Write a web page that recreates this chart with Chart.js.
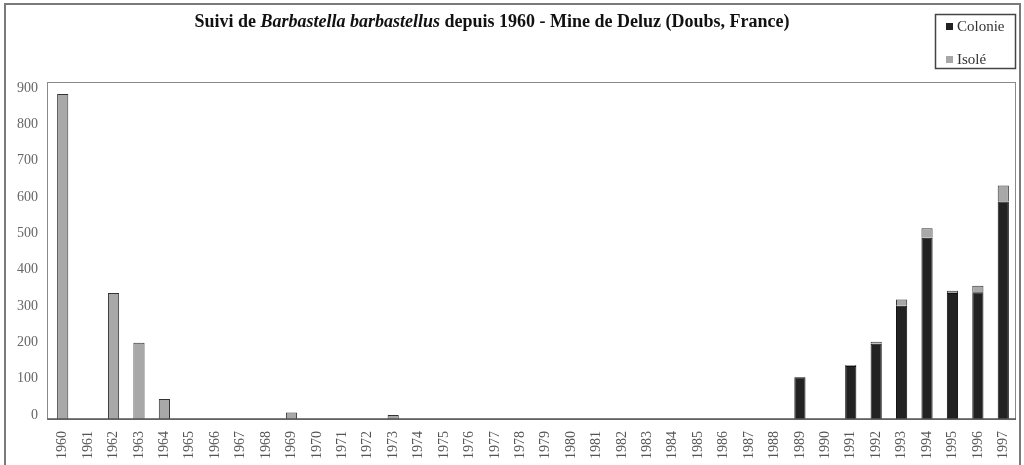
<!DOCTYPE html>
<html>
<head>
<meta charset="utf-8">
<script src="https://cdn.jsdelivr.net/npm/chart.js@4"></script>
<style>
  html, body { margin: 0; padding: 0; background: #fff; }
  #wrap { width: 1024px; height: 465px; position: relative; }
</style>
</head>
<body>
<div id="wrap"><canvas id="c" width="1024" height="465"></canvas></div>
<script>
// ---- Data ----
const years = ['1960','1961','1962','1963','1964','1965','1966','1967','1968','1969',
  '1970','1971','1972','1973','1974','1975','1976','1977','1978','1979',
  '1980','1981','1982','1983','1984','1985','1986','1987','1988','1989',
  '1990','1991','1992','1993','1994','1995','1996','1997'];
const colonie = [0,0,0,0,0,0,0,0,0,0,
  0,0,0,0,0,0,0,0,0,0,
  0,0,0,0,0,0,0,0,0,115,
  0,146,207,312,499,347,349,599];
const isole = [895,0,347,210,55,0,0,0,0,18,
  0,0,0,11,0,0,0,0,0,0,
  0,0,0,0,0,0,0,0,0,0,
  0,3,6,17,26,6,18,44];
const seriesNames = ['Colonie', 'Isolé'];
const yTicks = [0,100,200,300,400,500,600,700,800,900];
const titleParts = [
  { text: 'Suivi de ', italic: false },
  { text: 'Barbastella barbastellus', italic: true },
  { text: ' depuis 1960 - Mine de Deluz (Doubs, France)', italic: false }
];

const SERIF = '"Liberation Serif", "DejaVu Serif", serif';

const framePlugin = {
  id: 'frame',
  beforeDraw(chart) {
    const ctx = chart.ctx;
    ctx.save();
    ctx.fillStyle = '#fff';
    ctx.fillRect(0, 0, chart.width, chart.height);
    ctx.strokeStyle = '#7a7a7a';
    ctx.lineWidth = 2;
    ctx.strokeRect(5, 4, 1015, 470);
    ctx.restore();
  },
  afterDatasetsDraw(chart) {
    const ctx = chart.ctx, a = chart.chartArea;
    ctx.save();
    ctx.strokeStyle = '#8a8a8a';
    ctx.lineWidth = 1;
    ctx.strokeRect(a.left - 2.5, a.top + 0.5, a.right - a.left + 2, a.bottom - a.top);
    ctx.strokeStyle = '#555';
    ctx.lineWidth = 1.5;
    ctx.beginPath();
    ctx.moveTo(a.left - 2.5, a.bottom);
    ctx.lineTo(a.right, a.bottom);
    ctx.stroke();
    ctx.restore();
  }
};

const titlePlugin = {
  id: 'mixedTitle',
  afterDraw(chart) {
    const ctx = chart.ctx;
    ctx.save();
    ctx.fillStyle = '#111';
    ctx.textBaseline = 'middle';
    const size = 18;
    const fontFor = p => (p.italic ? 'italic ' : '') + 'bold ' + size + 'px ' + SERIF;
    let total = 0;
    titleParts.forEach(p => { ctx.font = fontFor(p); total += ctx.measureText(p.text).width; });
    let x = 492 - total / 2;
    titleParts.forEach(p => {
      ctx.font = fontFor(p);
      ctx.textAlign = 'left';
      ctx.fillText(p.text, x, 22);
      x += ctx.measureText(p.text).width;
    });
    ctx.restore();
  }
};

const legendPlugin = {
  id: 'boxLegend',
  afterDraw(chart) {
    const ctx = chart.ctx;
    ctx.save();
    ctx.strokeStyle = '#444';
    ctx.lineWidth = 1.5;
    ctx.strokeRect(935.5, 14.5, 80, 54);
    ctx.font = '15px ' + SERIF;
    ctx.textBaseline = 'middle';
    ctx.textAlign = 'left';
    const ys = [26, 59];
    chart.data.datasets.forEach((ds, i) => {
      ctx.fillStyle = ds.backgroundColor;
      ctx.fillRect(946, ys[i] - 3, 7, 7);
      ctx.fillStyle = '#333';
      ctx.fillText(ds.label, 957, ys[i] + 1);
    });
    ctx.restore();
  }
};

new Chart(document.getElementById('c'), {
  type: 'bar',
  data: {
    labels: years,
    datasets: [
      { label: seriesNames[0], data: colonie, backgroundColor: '#222222', borderColor: '#111111', borderWidth: 1, stack: 's' },
      { label: seriesNames[1], data: isole, backgroundColor: '#a8a8a8', borderColor: '#333333', borderWidth: 1, stack: 's' }
    ]
  },
  options: {
    responsive: false,
    animation: false,
    layout: { padding: { top: 82, right: 8, left: 0, bottom: 0 } },
    plugins: { legend: { display: false }, title: { display: false }, tooltip: { enabled: false } },
    datasets: { bar: { barPercentage: 0.44, categoryPercentage: 1.0 } },
    scales: {
      x: {
        stacked: true,
        grid: { display: false, drawTicks: false },
        border: { display: false },
        ticks: { minRotation: 90, maxRotation: 90, autoSkip: false, padding: 12, color: '#555', font: { family: SERIF, size: 14 } },
        afterFit(scale) { scale.height = 46; scale.paddingLeft = 0; scale.paddingRight = 0; }
      },
      y: {
        stacked: true,
        min: 0,
        max: 928,
        grid: { display: false, drawTicks: false },
        border: { display: false },
        afterBuildTicks(scale) { scale.ticks = yTicks.map(v => ({ value: v })); },
        ticks: { padding: 12, labelOffset: -4, color: '#666', font: { family: SERIF, size: 14 } },
        afterFit(scale) { scale.width = 50; scale.paddingTop = 0; scale.paddingBottom = 0; }
      }
    }
  },
  plugins: [framePlugin, titlePlugin, legendPlugin]
});
</script>
</body>
</html>
